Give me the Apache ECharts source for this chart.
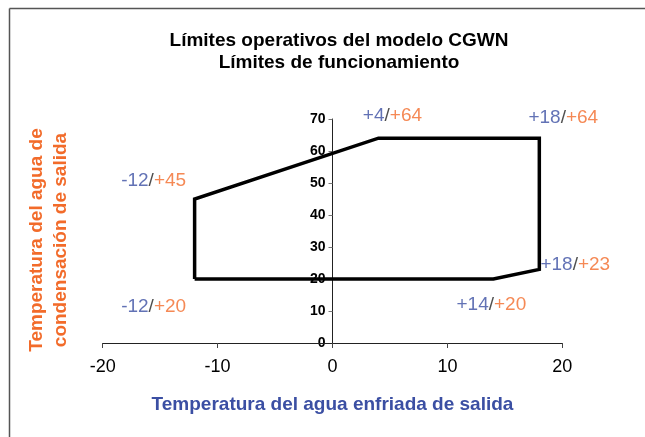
<!DOCTYPE html>
<html>
<head>
<meta charset="utf-8">
<script src="https://cdn.jsdelivr.net/npm/echarts@6/dist/echarts.min.js"></script>
<style>
  html, body { margin: 0; padding: 0; background: #fff; }
  #chart { width: 645px; height: 437px; }
</style>
</head>
<body>
<div id="chart"></div>
<script>
// boundary of the operating envelope (chilled water out / condenser water out)
const envelopeX = [-12, -12, 4, 18, 18, 14, -12]
const envelopeY = [20, 45, 64, 64, 23, 20, 20]

// labelled corners
const cornerX = [-12, -12, 4, 18, 18, 14]
const cornerY = [45, 20, 64, 64, 23, 20]
// label offsets from each corner, in px
const cornerOffset = [[-41, -18], [-41, 28], [14, -22], [24, -20], [36, -5], [-2, 26]]

const xTicks = { min: -20, max: 20, interval: 10 }
const yTicks = { min: 0, max: 70, interval: 10 }

const BLUE = '#3b4fa3'
const ORANGE = '#f26b2a'
const FONT = '"Liberation Sans", Arial, sans-serif'

const GRID_LEFT = 102.7
const GRID_RIGHT = 82.7
const plotW = 645 - GRID_LEFT - GRID_RIGHT
// y axis sits on x = 0
const yAxisShift = plotW * (0 - xTicks.min) / (xTicks.max - xTicks.min)

const fmtSigned = v => (v > 0 ? '+' + v : String(v))

const chart = echarts.init(document.getElementById('chart'))

const option = {
  backgroundColor: '#fff',
  animation: false,
  title: {
    text: 'Límites operativos del modelo CGWN\nLímites de funcionamiento',
    left: 334,
    top: 25,
    textAlign: 'center',
    textStyle: { fontFamily: FONT, fontSize: 19, fontWeight: 'bold', color: '#000', lineHeight: 22 }
  },
  grid: { left: GRID_LEFT, right: GRID_RIGHT, top: 119, bottom: 94 },
  xAxis: {
    type: 'value',
    position: 'bottom',
    min: xTicks.min,
    max: xTicks.max,
    interval: xTicks.interval,
    name: 'Temperatura del agua enfriada de salida',
    nameLocation: 'middle',
    nameGap: 52,
    nameTextStyle: { fontFamily: FONT, fontSize: 19, fontWeight: 'bold', color: BLUE },
    axisLine: { show: true, onZero: true, lineStyle: { color: '#222', width: 1.2 } },
    axisTick: { show: true, length: 5, lineStyle: { color: '#444' } },
    axisLabel: { fontFamily: FONT, fontSize: 18, color: '#000', margin: 15 },
    splitLine: { show: false },
    z: 5
  },
  yAxis: {
    type: 'value',
    position: 'left',
    offset: -yAxisShift,
    min: yTicks.min,
    max: yTicks.max,
    interval: yTicks.interval,
    axisLine: { show: true, onZero: false, lineStyle: { color: '#222', width: 1 } },
    axisTick: { show: true, length: 4, lineStyle: { color: '#777' } },
    axisLabel: { fontFamily: FONT, fontSize: 14, fontWeight: 'bold', color: '#000', margin: 7 },
    splitLine: { show: false }
  },
  graphic: [
    { type: 'line', shape: { x1: 9.5, y1: 8.5, x2: 650, y2: 8.5 }, style: { stroke: '#555', lineWidth: 1.5 } },
    { type: 'line', shape: { x1: 9.5, y1: 8.5, x2: 9.5, y2: 440 }, style: { stroke: '#555', lineWidth: 1.5 } },
    {
      type: 'text',
      x: 49,
      y: 240,
      rotation: Math.PI / 2,
      style: {
        text: 'Temperatura del agua de\ncondensación de salida',
        font: 'bold 19px ' + FONT,
        fill: ORANGE,
        align: 'center',
        verticalAlign: 'middle',
        lineHeight: 24
      }
    }
  ],
  series: [
    {
      type: 'line',
      data: envelopeX.map((x, i) => [x, envelopeY[i]]),
      symbol: 'none',
      lineStyle: { color: '#000', width: 3.5, join: 'miter' },
      z: 3
    },
    {
      type: 'scatter',
      symbolSize: 0,
      data: cornerX.map((x, i) => ({
        value: [x, cornerY[i]],
        label: { offset: cornerOffset[i] }
      })),
      label: {
        show: true,
        position: 'inside',
        formatter: p => '{a|' + fmtSigned(p.value[0]) + '}{s|/}{b|' + fmtSigned(p.value[1]) + '}',
        rich: {
          a: { fontFamily: FONT, fontSize: 19, color: BLUE },
          s: { fontFamily: FONT, fontSize: 19, color: '#222' },
          b: { fontFamily: FONT, fontSize: 19, color: ORANGE }
        }
      },
      z: 4
    }
  ]
}

chart.setOption(option)
</script>
</body>
</html>
